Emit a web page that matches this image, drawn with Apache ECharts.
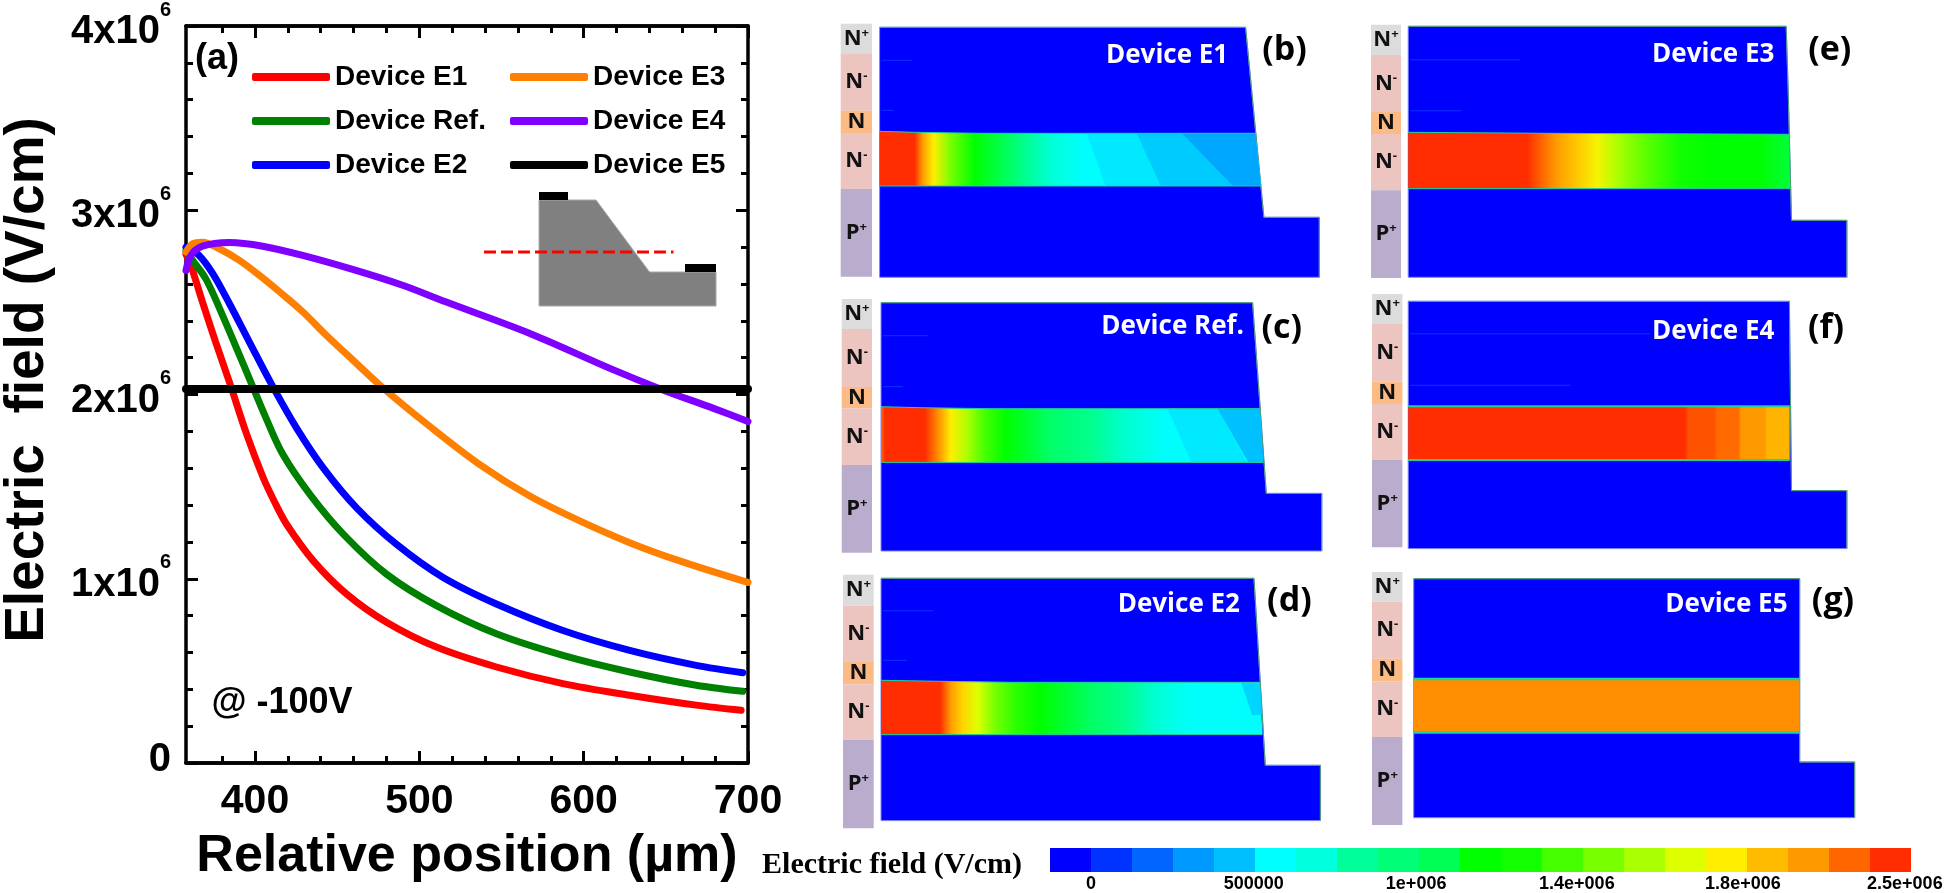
<!DOCTYPE html>
<html lang="en">
<head>
    <meta charset="utf-8">
    <title>Electric field</title>
    <style>
        html, body { margin: 0; padding: 0; background: #fff; }
    </style>
</head>
<body>
    <div id="main" style="width:1946px;height:893px;"></div>
    <script src="https://cdn.jsdelivr.net/npm/echarts@6/dist/echarts.min.js"></script>
    <script type="text/javascript">
        // ---- panel (a): field along the cut line, x in um, y in V/cm
        var xRange = [358, 700];
        var xTicks = [400, 500, 600, 700];
        var xMinorTicks = [380, 420, 440, 460, 480, 520, 540, 560, 580, 620, 640, 660, 680];
        var yTickLabels = ['0', '1x10', '2x10', '3x10', '4x10'];

        var lineE1 = [[358, 2.76e6], [361, 2.70e6], [368, 2.503e6], [376, 2.286e6], [385, 2.052e6], [395, 1.782e6], [405, 1.548e6], [412, 1.415e6], [419.2, 1.296e6], [435.5, 1.097e6], [455.7, 0.917e6], [480, 0.764e6], [510.4, 0.629e6], [546.9, 0.521e6], [587.4, 0.431e6], [628, 0.368e6], [668.5, 0.314e6], [695.8, 0.286e6]];
        var lineRef = [[358, 2.78e6], [362, 2.728e6], [370, 2.629e6], [378, 2.476e6], [388.4, 2.259e6], [398.6, 2.043e6], [406.7, 1.872e6], [417, 1.674e6], [433.4, 1.458e6], [453.7, 1.242e6], [480, 1.025e6], [510.4, 0.854e6], [546.9, 0.701e6], [587.4, 0.584e6], [628, 0.494e6], [668.5, 0.422e6], [696.8, 0.389e6]];
        var lineE2 = [[358, 2.80e6], [366, 2.755e6], [374.3, 2.656e6], [384.4, 2.494e6], [396.5, 2.286e6], [411, 2.04e6], [425.3, 1.818e6], [441.5, 1.602e6], [461.8, 1.385e6], [486.1, 1.187e6], [514.5, 1.007e6], [546.9, 0.863e6], [587.4, 0.719e6], [628, 0.611e6], [668.5, 0.53e6], [696.8, 0.49e6]];
        var lineE3 = [[358, 2.773e6], [362, 2.818e6], [368, 2.827e6], [378.3, 2.791e6], [390.5, 2.728e6], [402.6, 2.647e6], [414.8, 2.558e6], [429, 2.449e6], [443.2, 2.323e6], [459.4, 2.188e6], [478, 2.035e6], [506.4, 1.827e6], [536.8, 1.62e6], [567.2, 1.449e6], [597.6, 1.314e6], [628, 1.196e6], [658.4, 1.097e6], [700, 0.98e6]];
        var lineE4 = [[358, 2.674e6], [361, 2.755e6], [368, 2.805e6], [384.4, 2.825e6], [404.7, 2.805e6], [429, 2.755e6], [459.4, 2.679e6], [489.8, 2.593e6], [516, 2.503e6], [567.6, 2.33e6], [617.8, 2.135e6], [648.2, 2.025e6], [678.6, 1.926e6], [700, 1.854e6]];
        var lineE5 = [[358, 2.03e6], [700, 2.03e6]];

        // ---- inset sketch of the mesa, arbitrary units
        var insetOutline = [[55, 9], [112, 9], [165.5, 81], [232, 81], [232, 115], [55, 115]];
        var insetContacts = [[[55, 1], [84, 1], [84, 9], [55, 9]], [[201, 73], [232, 73], [232, 81], [201, 81]]];
        var insetCut = [[0, 61], [189.5, 61]];

        // ---- colour scale
        var scaleColors = ['#0000ff', '#0033ff', '#0066ff', '#0099ff', '#00bfff', '#00ffff', '#00ffdd', '#00ff99', '#00ff77', '#00ff55', '#00ff00', '#11ff00', '#44ff00', '#77ff00', '#aaff00', '#ddff00', '#ffee00', '#ffbb00', '#ff9900', '#ff6600', '#ff2d00'];
        var scaleValues = [0, 500000, 1000000, 1400000, 1800000, 2500000];
        var scaleTickLabels = ['0', '500000', '1e+006', '1.4e+006', '1.8e+006', '2.5e+006'];
        var scaleTickCells = [1, 4.97, 8.93, 12.85, 16.9, 20.85];

        // ---- panels (b)-(g): distance across the device and field in the N- layer
        var posE1 = [0, 35, 43, 54, 71, 95, 140, 171, 205, 382];
        var fieldE1 = [2.5e6, 2.5e6, 2.05e6, 1.75e6, 1.45e6, 1.15e6, 0.9e6, 0.7e6, 0.56e6, 0.56e6];
        var outlineE1 = [[0, 0], [366, 0], [384.3, 190], [439.7, 190], [439.7, 250], [0, 250]];
        var bandE1 = [[0, 104], [35, 105], [100, 106], [375.6, 106], [381.5, 158.7], [0, 158.7]];
        var zoneValuesE1 = [0.52e6, 0.46e6, 0.36e6];
        var zonesE1 = [[[207, 106], [257, 106], [281, 158.7], [226, 158.7]], [[257, 106], [302, 106], [353, 158.7], [281, 158.7]], [[302, 106], [375.6, 106], [381.5, 158.7], [353, 158.7]]];
        var layersE1 = [-3.6, 26, 83.4, 105.7, 161.7, 249.4];
        var streaksE1 = [[2, 33, 30], [2, 83, 12]];

        var posE3 = [0, 118.5, 148, 168, 189, 210, 237, 272, 303, 351, 382];
        var fieldE3 = [2.5e6, 2.5e6, 2.05e6, 1.85e6, 1.72e6, 1.55e6, 1.4e6, 1.25e6, 1.15e6, 1.15e6, 1.08e6];
        var outlineE3 = [[0, 0], [378, 0], [380, 63.7], [383.3, 194], [438.7, 194], [438.7, 251], [0, 251]];
        var bandE3 = [[0, 106], [140, 107], [381, 108], [382, 162.3], [0, 162.3]];
        var zoneValuesE3 = [];
        var zonesE3 = [];
        var layersE3 = [-1.6, 28.7, 85.7, 107.7, 164, 251.7];
        var streaksE3 = [[2, 33.5, 110], [2, 84.5, 51]];

        var posRef = [0, 4, 43.7, 59, 69.6, 86.8, 104, 124.7, 169, 211, 242, 286.5, 383];
        var fieldRef = [2.2e6, 2.5e6, 2.5e6, 2.05e6, 1.75e6, 1.55e6, 1.35e6, 1.15e6, 1.0e6, 0.85e6, 0.72e6, 0.56e6, 0.56e6];
        var outlineRef = [[0, 0], [371.6, 0], [385.3, 190.7], [440.8, 190.7], [440.8, 248.3], [0, 248.3]];
        var bandRef = [[0, 104], [40, 105], [110, 106], [378.8, 106], [382.2, 159.7], [0, 159.7]];
        var zoneValuesRef = [0.52e6, 0.44e6];
        var zonesRef = [[[286.5, 106], [336.4, 106], [365.7, 159.7], [310.6, 159.7]], [[336.4, 106], [378.8, 106], [382.2, 159.7], [367.4, 159.7]]];
        var layersRef = [-3.7, 26.3, 84.3, 105.6, 162.3, 250];
        var streaksRef = [[2, 33, 45], [2, 84, 20]];

        var posE4 = [0, 276.9, 280, 306, 309, 330, 333, 356, 359.5, 382];
        var fieldE4 = [2.5e6, 2.5e6, 2.3e6, 2.3e6, 2.22e6, 2.22e6, 2.06e6, 2.06e6, 1.92e6, 1.92e6];
        var outlineE4 = [[0, 0], [381.2, 0], [383.3, 189.3], [438.7, 189.3], [438.7, 247.3], [0, 247.3]];
        var bandE4 = [[0, 105], [381.5, 105], [381.5, 158.7], [0, 158.7]];
        var zoneValuesE4 = [];
        var zonesE4 = [];
        var layersE4 = [-7.3, 22.7, 80.4, 102.7, 158.4, 246];
        var streaksE4 = [[2, 32.5, 240], [2, 84, 160]];

        var posE2 = [0, 59, 69.6, 81.6, 97, 114, 135, 159, 211, 245, 276, 310.6, 382];
        var fieldE2 = [2.5e6, 2.5e6, 2.05e6, 1.8e6, 1.65e6, 1.45e6, 1.3e6, 1.15e6, 1.0e6, 0.85e6, 0.7e6, 0.58e6, 0.56e6];
        var outlineE2 = [[0, 0], [373, 0], [384.3, 187], [439.4, 187], [439.4, 242.3], [0, 242.3]];
        var bandE2 = [[0, 102], [60, 103], [130, 104], [378.8, 104], [381.5, 156.3], [0, 156.3]];
        var zoneValuesE2 = [0.48e6];
        var zonesE2 = [[[360.5, 105], [378.8, 105], [380.8, 136.7], [371, 136.7]]];
        var layersE2 = [-3.6, 27.4, 83.7, 106, 161.4, 250];
        var streaksE2 = [[2, 32.5, 50], [2, 82, 24]];

        var posE5 = [0, 386];
        var fieldE5 = [2.1e6, 2.1e6];
        var outlineE5 = [[0, 0], [386, 0], [386, 183.3], [441, 183.3], [441, 239], [0, 239]];
        var bandE5 = [[0, 100.3], [386, 100.3], [386, 153.7], [0, 153.7]];
        var zoneValuesE5 = [];
        var zonesE5 = [];
        var layersE5 = [-6.7, 23, 80, 102.6, 158.3, 246.3];
        var streaksE5 = [];

        var layerNames = ['N', 'N', 'N', 'N', 'P'];
        var layerSigns = ['+', '-', '', '-', '+'];
        var layerColors = ['#dcdcdc', '#ecc5c1', '#fcbb84', '#ecc5c1', '#baaccc'];

        var panels = [
            { letter: '(b)', name: 'Device E1', left: 879.6, top: 27.3, strip: [-38.9, -7.6], nameAt: [287.5, 28], letterAt: [405, 23], pos: posE1, field: fieldE1, outline: outlineE1, band: bandE1, zones: zonesE1, zoneValues: zoneValuesE1, layers: layersE1, streaks: streaksE1, edge: 1 },
            { letter: '(e)', name: 'Device E3', left: 1408.2, top: 26.3, strip: [-37.2, -7.2], nameAt: [305, 28.7], letterAt: [421.5, 23.7], pos: posE3, field: fieldE3, outline: outlineE3, band: bandE3, zones: zonesE3, zoneValues: zoneValuesE3, layers: layersE3, streaks: streaksE3, edge: 1 },
            { letter: '(c)', name: 'Device Ref.', left: 881, top: 302.7, strip: [-39.3, -9], nameAt: [291.6, 24], letterAt: [400.8, 25.6], pos: posRef, field: fieldRef, outline: outlineRef, band: bandRef, zones: zonesRef, zoneValues: zoneValuesRef, layers: layersRef, streaks: streaksRef, edge: 1 },
            { letter: '(f)', name: 'Device E4', left: 1408.2, top: 301.3, strip: [-36.2, -5.8], nameAt: [305, 30.4], letterAt: [417.8, 27], pos: posE4, field: fieldE4, outline: outlineE4, band: bandE4, zones: zonesE4, zoneValues: zoneValuesE4, layers: layersE4, streaks: streaksE4, edge: 2 },
            { letter: '(d)', name: 'Device E2', left: 881, top: 578.3, strip: [-38, -7.3], nameAt: [297.8, 26.7], letterAt: [408.4, 23.4], pos: posE2, field: fieldE2, outline: outlineE2, band: bandE2, zones: zonesE2, zoneValues: zoneValuesE2, layers: layersE2, streaks: streaksE2, edge: 1 },
            { letter: '(g)', name: 'Device E5', left: 1413.7, top: 578.7, strip: [-41.7, -11.3], nameAt: [312.7, 26.3], letterAt: [419.3, 22.3], pos: posE5, field: fieldE5, outline: outlineE5, band: bandE5, zones: zonesE5, zoneValues: zoneValuesE5, layers: layersE5, streaks: streaksE5, edge: 2.5 }
        ];

        var myChart = echarts.init(document.getElementById('main'));
        var armFont = '"Liberation Sans", Arial, sans-serif';
        var panelFont = '"Open Sans", sans-serif';

        // field value -> colour, the scale ticks sit on the cell edges
        function fieldColor(value) {
            var cell = 21;
            for (var i = 0; i < scaleValues.length - 1; i++) {
                if (value <= scaleValues[i + 1]) {
                    cell = 1 + 4 * i + 4 * (value - scaleValues[i]) / (scaleValues[i + 1] - scaleValues[i]);
                    break;
                }
            }
            var p = Math.max(0, Math.min(scaleColors.length - 1, cell - 0.5));
            return echarts.color.lerp(p / (scaleColors.length - 1), scaleColors);
        }

        function toPoints(api, list) {
            return list.map(function (d) { return api.coord(d); });
        }

        function polygon(api, list, style) {
            return { type: 'polygon', shape: { points: toPoints(api, list) }, style: style };
        }

        function polyline(api, list, style) {
            style.fill = null;
            return { type: 'polyline', shape: { points: toPoints(api, list) }, style: style };
        }

        function panelShapes(panel, api) {
            var kids = [];
            // doping strip
            panel.layers.slice(0, -1).forEach(function (y0, i) {
                var y1 = panel.layers[i + 1];
                kids.push(polygon(api, [[panel.strip[0], y0], [panel.strip[1], y0], [panel.strip[1], y1], [panel.strip[0], y1]], { fill: layerColors[i] }));
                var mid = api.coord([(panel.strip[0] + panel.strip[1]) / 2, (y0 + y1) / 2]);
                kids.push({
                    type: 'text',
                    style: {
                        x: mid[0], y: mid[1], align: 'center', verticalAlign: 'middle',
                        text: '{n|' + layerNames[i] + '}' + (layerSigns[i] ? '{s|' + layerSigns[i] + '}' : ''),
                        rich: {
                            n: { font: '700 22px ' + panelFont, fill: '#111', lineHeight: 24 },
                            s: { font: '700 13px ' + panelFont, fill: '#111', verticalAlign: 'top', lineHeight: 24 }
                        }
                    }
                });
            });
            // device body
            kids.push(polygon(api, panel.outline, { fill: scaleColors[0], stroke: '#7d86ff', lineWidth: 1 }));
            kids.push(polyline(api, panel.outline.slice(0, -1), { stroke: '#4f9f6f', lineWidth: 1 }));
            panel.streaks.forEach(function (s) {
                kids.push(polyline(api, [[s[0], s[1]], [s[0] + s[2], s[1]]], { stroke: '#0a33ff', lineWidth: 1 }));
            });
            // depleted N- layer
            var bandWidth = Math.max.apply(null, panel.band.map(function (d) { return d[0]; }));
            var stops = panel.pos.map(function (p, i) {
                return { offset: Math.min(1, p / bandWidth), color: fieldColor(panel.field[i]) };
            });
            kids.push(polygon(api, panel.band, { fill: new echarts.graphic.LinearGradient(0, 0, 1, 0, stops) }));
            panel.zones.forEach(function (z, i) {
                kids.push(polygon(api, z, { fill: fieldColor(panel.zoneValues[i]) }));
            });
            // band edges, top run and bottom run
            var n = panel.band.length;
            kids.push(polyline(api, panel.band.slice(0, n - 2), { stroke: '#1fd29a', lineWidth: panel.edge }));
            kids.push(polyline(api, panel.band.slice(n - 2), { stroke: '#1fd29a', lineWidth: panel.edge }));
            // captions
            var nameAt = api.coord(panel.nameAt);
            var letterAt = api.coord(panel.letterAt);
            kids.push({ type: 'text', style: { x: nameAt[0], y: nameAt[1], text: panel.name, align: 'center', verticalAlign: 'middle', fill: '#fff', font: '700 26px ' + panelFont } });
            kids.push({ type: 'text', style: { x: letterAt[0], y: letterAt[1], text: panel.letter, align: 'center', verticalAlign: 'middle', fill: '#000', font: '700 34px ' + panelFont } });
            return { type: 'group', children: kids };
        }

        // panel (a)
        var grids = [{ left: 186, top: 24, width: 562, height: 739 }];
        var hiddenAxis = { type: 'value', show: false };
        var frameLine = { show: true, onZero: false, lineStyle: { color: '#000', width: 3.5 } };
        // a dash array without gaps keeps the ticks out of zrender's line batching, they got lost there
        var tickLine = { color: '#000', width: 3, type: [100, 0] };
        var majorTick = { show: true, inside: true, length: 12, lineStyle: tickLine };
        var minorXTick = { show: true, inside: true, length: 7, lineStyle: tickLine };

        function frameX(position, values, tick, labels) {
            return {
                type: 'value', gridIndex: 0, position: position, min: xRange[0], max: xRange[1],
                axisLine: frameLine, splitLine: { show: false },
                axisTick: Object.assign({ customValues: values }, tick),
                axisLabel: labels || { show: false }
            };
        }

        var xAxes = [
            Object.assign(frameX('bottom', xTicks, majorTick, {
                show: true, customValues: xTicks, margin: 18, color: '#000',
                fontFamily: armFont, fontWeight: 'bold', fontSize: 41
            }), {
                name: 'Relative position (\u00b5m)', nameLocation: 'middle', nameGap: 68,
                nameTextStyle: { color: '#000', fontFamily: armFont, fontWeight: 'bold', fontSize: 52 }
            }),
            frameX('top', xTicks, majorTick),
            frameX('bottom', xMinorTicks, minorXTick),
            frameX('top', xMinorTicks, minorXTick)
        ];

        function frameY(position, labels) {
            return {
                type: 'value', gridIndex: 0, position: position, min: 0, max: 4e6, interval: 1e6,
                axisLine: frameLine, splitLine: { show: false },
                axisTick: majorTick,
                minorTick: { show: true, splitNumber: 5, length: 7, lineStyle: tickLine },
                axisLabel: labels
            };
        }

        var yAxes = [
            frameY('left', {
                show: true, margin: 15,
                formatter: function (v, i) {
                    return i === 0 ? '{z|' + yTickLabels[i] + '}' : '{m|' + yTickLabels[i] + '}{s|6}';
                },
                rich: {
                    z: { color: '#000', fontFamily: armFont, fontWeight: 'bold', fontSize: 40, padding: [0, 0, 6, 0] },
                    m: { color: '#000', fontFamily: armFont, fontWeight: 'bold', fontSize: 40, padding: [12, 0, 0, 0] },
                    s: { color: '#000', fontFamily: armFont, fontWeight: 'bold', fontSize: 20, verticalAlign: 'top' }
                }
            }),
            frameY('right', { show: false })
        ];

        var series = [];

        function addLine(name, color, width, data) {
            series.push({
                name: name, type: 'line', data: data, smooth: 0.33, showSymbol: false,
                xAxisIndex: 0, yAxisIndex: 0,
                lineStyle: { color: color, width: width, cap: 'round' },
                itemStyle: { color: color }
            });
        }
        addLine('Device E1', '#ff0000', 7, lineE1);
        addLine('Device Ref.', '#008000', 7, lineRef);
        addLine('Device E2', '#0000ff', 7, lineE2);
        addLine('Device E3', '#ff8000', 7, lineE3);
        addLine('Device E4', '#8000ff', 7, lineE4);
        addLine('Device E5', '#000000', 8, lineE5);

        function legendColumn(left, names) {
            return {
                left: left, top: 56, orient: 'vertical', data: names, icon: 'roundRect',
                itemWidth: 78, itemHeight: 8, itemGap: 12, selectedMode: false,
                textStyle: { color: '#000', fontFamily: armFont, fontWeight: 'bold', fontSize: 28, lineHeight: 32 }
            };
        }

        // every schematic gets its own 1 unit = 1 px grid
        function addGrid(left, top, x0, x1, y0, y1) {
            grids.push({ left: left + x0, top: top + y0, width: x1 - x0, height: y1 - y0 });
            var idx = grids.length - 1;
            xAxes.push(Object.assign({ gridIndex: idx, min: x0, max: x1 }, hiddenAxis));
            yAxes.push(Object.assign({ gridIndex: idx, min: y0, max: y1, inverse: true }, hiddenAxis));
            return { gridIndex: idx, xAxisIndex: xAxes.length - 1, yAxisIndex: yAxes.length - 1 };
        }

        function addShapes(axes, renderItem) {
            series.push({
                type: 'custom', coordinateSystem: 'cartesian2d', silent: true, clip: false,
                xAxisIndex: axes.xAxisIndex, yAxisIndex: axes.yAxisIndex,
                data: [[0, 0]], renderItem: renderItem
            });
        }

        // inset
        addShapes(addGrid(484, 191, 0, 233, 0, 116), function (params, api) {
            var kids = [polygon(api, insetOutline, { fill: '#808080', stroke: '#a8a8a8', lineWidth: 1 })];
            insetContacts.forEach(function (c) { kids.push(polygon(api, c, { fill: '#000' })); });
            kids.push(polyline(api, insetCut, { stroke: '#ff0000', lineWidth: 3, lineDash: [12, 5] }));
            return { type: 'group', children: kids };
        });

        // panels (b)-(g)
        panels.forEach(function (panel) {
            var w = panel.outline[panel.outline.length - 2][0];
            var h = panel.outline[panel.outline.length - 1][1];
            addShapes(addGrid(panel.left, panel.top, -45, w + 70, -10, h + 10), function (params, api) {
                return panelShapes(panel, api);
            });
        });

        // colour scale
        grids.push({ left: 1050, top: 848, width: 861, height: 28 });
        xAxes.push({
            type: 'value', gridIndex: grids.length - 1, min: 0, max: scaleColors.length,
            axisLine: { show: false }, axisTick: { show: false }, splitLine: { show: false },
            axisLabel: {
                show: true, customValues: scaleTickCells, margin: 3, color: '#000', hideOverlap: false,
                fontFamily: armFont, fontWeight: 'bold', fontSize: 18, showMinLabel: true, showMaxLabel: true,
                formatter: function (v) { return scaleTickLabels[scaleTickCells.indexOf(v)]; }
            }
        });
        yAxes.push(Object.assign({ gridIndex: grids.length - 1, min: 0, max: 1 }, hiddenAxis));
        series.push({
            type: 'custom', coordinateSystem: 'cartesian2d', silent: true,
            xAxisIndex: xAxes.length - 1, yAxisIndex: yAxes.length - 1,
            data: scaleColors.map(function (c, i) { return [i, 0]; }),
            renderItem: function (params, api) {
                var i = api.value(0);
                var a = api.coord([i, 1]);
                var b = api.coord([i + 1, 0]);
                return { type: 'rect', shape: { x: a[0], y: a[1], width: b[0] - a[0], height: b[1] - a[1] }, style: { fill: scaleColors[i] } };
            }
        });

        var option = {
            backgroundColor: '#fff',
            animation: false,
            grid: grids,
            xAxis: xAxes,
            yAxis: yAxes,
            legend: [
                legendColumn(247, ['Device E1', 'Device Ref.', 'Device E2']),
                legendColumn(505, ['Device E3', 'Device E4', 'Device E5'])
            ],
            series: series,
            graphic: [
                { type: 'text', x: 28, y: 380, rotation: Math.PI / 2, style: { text: 'Electric  field (V/cm)', font: 'bold 55px ' + armFont, fill: '#000', textAlign: 'center', textVerticalAlign: 'middle' } },
                { type: 'text', x: 217, y: 59, style: { text: '(a)', font: 'bold 36px ' + armFont, fill: '#000', textAlign: 'center', textVerticalAlign: 'middle' } },
                { type: 'text', x: 282, y: 703, style: { text: '@ -100V', font: 'bold 36px ' + armFont, fill: '#000', textAlign: 'center', textVerticalAlign: 'middle' } },
                { type: 'text', x: 892, y: 865, style: { text: 'Electric field (V/cm)', font: 'bold 30px "Liberation Serif", serif', fill: '#000', textAlign: 'center', textVerticalAlign: 'middle' } }
            ]
        };
        myChart.setOption(option);
    </script>
</body>
</html>
